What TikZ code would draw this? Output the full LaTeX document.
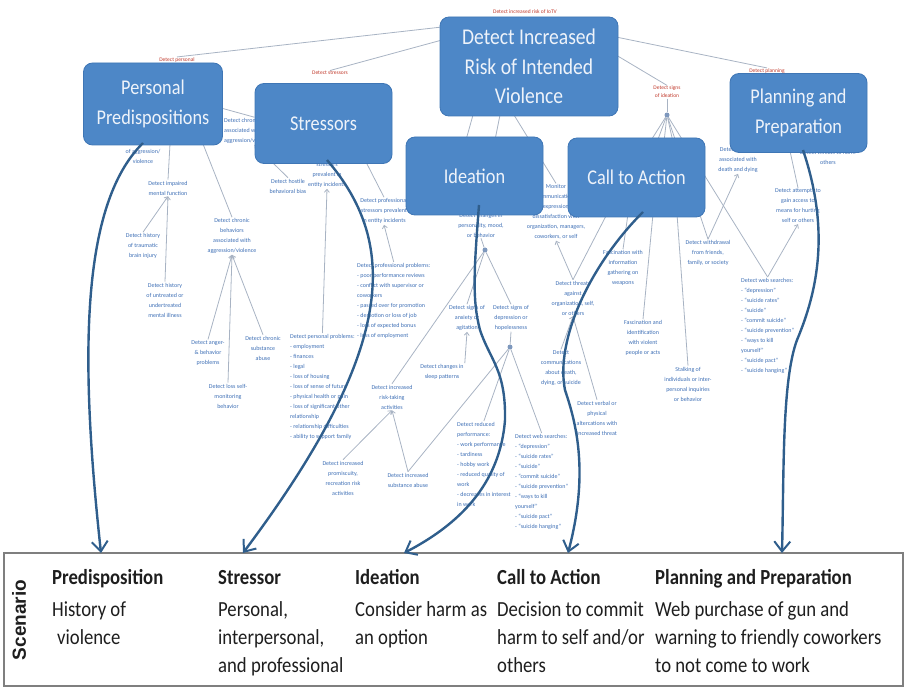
\documentclass[tikz,border=0pt]{standalone}
\usepackage{fontspec}
\setmainfont{Carlito}
\newfontfamily\arialb{Liberation Sans}
\newfontfamily\narrowfont[FakeStretch=0.87]{Carlito}
\usetikzlibrary{arrows.meta}
\definecolor{boxblue}{HTML}{4D87C7}
\definecolor{boxedge}{HTML}{3F76B5}
\definecolor{boxtext}{HTML}{EEF3FA}
\definecolor{smblue}{HTML}{3E6FB5}
\definecolor{smline}{HTML}{A8B3C3}
\definecolor{arrowblue}{HTML}{2F5E8C}
\definecolor{redtxt}{HTML}{C0392B}
\definecolor{panelline}{HTML}{7F7F7F}
\definecolor{darktxt}{HTML}{1E1E1E}
\pgfdeclarelayer{bglines}
\pgfdeclarelayer{smtext}
\pgfsetlayers{bglines,smtext,main}
\begin{document}
\begin{tikzpicture}[x=1pt,y=-1pt,
  bigbox/.style={draw=boxedge, line width=0.8pt, fill=boxblue, rounded corners=9pt, text=boxtext, align=center, font=\narrowfont\fontsize{21}{30}\selectfont, inner sep=0pt},
  sm/.style={text=smblue, font=\fontsize{6}{10}\selectfont, align=center, inner sep=1pt},
  smlist/.style={text=smblue, font=\fontsize{6}{10}\selectfont, align=left, inner sep=1pt, anchor=north west},
  redlbl/.style={text=redtxt, font=\fontsize{5.5}{8}\selectfont, align=center, inner sep=0.5pt},
  link/.style={draw=smline, line width=0.8pt},
  tiplink/.style={link, -{Straight Barb[length=3pt,width=5pt]}},
  hubdot/.style={circle, fill=smline!60!smblue, inner sep=0pt, minimum size=5pt},
  bigarrow/.style={draw=arrowblue, line width=2.4pt, -{Straight Barb[length=10pt,width=16pt,line width=2pt]}},
  scenhead/.style={text=darktxt, font=\narrowfont\fontsize{21.5}{24}\bfseries\selectfont, anchor=base west, inner sep=0pt},
  scenbody/.style={text=darktxt, font=\narrowfont\fontsize{21.5}{24}\selectfont, anchor=base west, inner sep=0pt},
]
\useasboundingbox (0,0) rectangle (906,690);

% ---------------- main boxes ----------------
\node[bigbox, font=\narrowfont\fontsize{22.5}{29.5}\selectfont, minimum width=178pt, minimum height=99pt] (dt) at (529,66.5) {Detect Increased\\Risk of Intended\\Violence};
\node[bigbox, minimum width=139pt, minimum height=82pt] (pp) at (153,104) {Personal\\Predispositions};
\node[bigbox, minimum width=137pt, minimum height=80pt] (st) at (323.5,123.5) {Stressors};
\node[bigbox, minimum width=137pt, minimum height=78pt] (id) at (474.5,176) {Ideation};
\node[bigbox, minimum width=137pt, minimum height=79pt] (ca) at (636.5,177.5) {Call to Action};
\node[bigbox, minimum width=137pt, minimum height=79pt] (pl) at (798.5,113) {Planning and\\Preparation};

% ---------------- small texts ----------------
\begin{pgfonlayer}{smtext}
\node[redlbl] (rtop) at (525,12) {Detect increased risk of IoTV};
\node[redlbl] (rpers) at (177,60) {Detect personal};
\node[redlbl] (rstr) at (330,73) {Detect stressors};
\node[redlbl] (rideat) at (667,92) {Detect signs\\of ideation};
\node[redlbl] (rplan) at (767,71) {Detect planning};

\node[sm] (a1) at (143,151) {Detect history\\of aggression/\\violence};
\node[sm, anchor=west, align=left] (a2) at (223,131) {Detect chronic behaviors\\associated with\\aggression/violence};
\node[sm] (a3) at (168,188) {Detect impaired\\mental function};
\node[sm] (a4) at (143,246) {Detect history\\of traumatic\\brain injury};
\node[sm] (a5) at (165,300) {Detect history\\of untreated or\\undertreated\\mental illness};
\node[sm] (a6) at (232,236) {Detect chronic\\behaviors\\associated with\\aggression/violence};
\node[sm] (a7) at (208,353) {Detect anger-\\\& behavior\\problems};
\node[sm] (a8) at (263,348) {Detect chronic\\substance\\abuse};
\node[sm] (a9) at (228,396) {Detect loss self-\\monitoring\\behavior};

\node[sm] (b1) at (288,186) {Detect hostile\\behavioral bias};
\node[sm] (b2) at (327,170) {Detect personal\\stressors\\prevalent in\\entity incidents};
\node[sm] (b3) at (384,211) {Detect professional\\stressors prevalent\\in entity incidents};
\node[smlist] (b4) at (356,262) {Detect professional problems:\\- poor performance reviews\\- conflict with supervisor or\\coworkers\\- passed over for promotion\\- demotion or loss of job\\- loss of expected bonus\\- loss of employment};
\node[smlist] (b5) at (289,333) {Detect personal problems:\\- employment\\- finances\\- legal\\- loss of housing\\- loss of sense of future\\- physical health or pain\\- loss of significant other\\relationship\\- relationship difficulties\\- ability to support family};
\node[sm] (b6) at (392,397) {Detect increased\\risk-taking\\activities};
\node[sm] (b7) at (343,478) {Detect increased\\promiscuity,\\recreation risk\\activities};
\node[sm] (b8) at (408,480) {Detect increased\\substance abuse};
\node[sm] (b9) at (442,372) {Detect changes in\\sleep patterns};

\node[sm] (c1) at (481,225) {Detect changes in\\personality, mood,\\or behavior};
\node[hubdot] (hub2) at (485,250) {};
\node[sm] (c2) at (467,318) {Detect signs of\\anxiety or\\agitation};
\node[sm] (c3) at (511,318) {Detect signs of\\depression or\\hopelessness};
\node[hubdot] (hub3) at (510,347) {};
\node[smlist] (c4) at (456,421) {Detect reduced\\performance:\\- work performance\\- tardiness\\- hobby work\\- reduced quality of\\work\\- decreases in interest\\in work};
\node[smlist] (c5) at (514,433) {Detect web searches:\\- ``depression''\\- ``suicide rates''\\- ``suicide''\\- ``commit suicide''\\- ``suicide prevention''\\- ``ways to kill\\yourself''\\- ``suicide pact''\\- ``suicide hanging''};

\node[sm] (m1) at (556,212) {Monitor\\communications\\for expressions of\\dissatisfaction with\\organization, managers,\\coworkers, or self};

\node[hubdot] (hub1) at (667,115) {};
\node[sm] (d1) at (738,160) {Detect interest\\associated with\\death and dying};
\node[sm] (d2) at (708,253) {Detect withdrawal\\from friends,\\family, or society};
\node[sm] (d3) at (798,206) {Detect attempts to\\gain access to\\means for hurting\\self or others};
\node[sm] (d4) at (828,157) {Detect threats to harm\\others};
\node[smlist] (d5) at (740,277) {Detect web searches:\\- ``depression''\\- ``suicide rates''\\- ``suicide''\\- ``commit suicide''\\- ``suicide prevention''\\- ``ways to kill\\yourself''\\- ``suicide pact''\\- ``suicide hanging''};
\node[sm] (d6) at (573,298) {Detect threats\\against\\organization, self,\\or others};
\node[sm] (d7) at (623,268) {Fascination with\\information\\gathering on\\weapons};
\node[sm] (d8) at (643,338) {Fascination and\\identification\\with violent\\people or acts};
\node[sm] (d9) at (688,384) {Stalking of\\individuals or inter-\\personal inquiries\\or behavior};
\node[sm] (d10) at (561,368) {Detect\\communications\\about death,\\dying, or suicide};
\node[sm] (d11) at (597,418) {Detect verbal or\\physical\\altercations with\\increased threat};
\end{pgfonlayer}

% ---------------- thin connectors ----------------
\coordinate (dtA) at (442,27);
\coordinate (dtB) at (442,40);
\coordinate (dtC) at (616,37);
\coordinate (dtD) at (616,55);
\coordinate (dtE) at (473,115);
\coordinate (dtF) at (500,115);
\coordinate (dtG) at (514,115);
\coordinate (idE) at (466,140);
\coordinate (idF) at (495,140);
\coordinate (ppR) at (221,108);
\coordinate (ppB1) at (170,144);
\coordinate (ppB2) at (203,144);
\coordinate (stB) at (366,162);
\coordinate (caT1) at (650,142);
\coordinate (caT2) at (657,142);
\coordinate (caT3) at (664,142);
\coordinate (caT4) at (673,142);
\coordinate (caB1) at (607,214);
\coordinate (caB2) at (628,214);
\coordinate (caB3) at (653,214);
\coordinate (caB4) at (677,214);
\coordinate (plB) at (790,151);
\begin{pgfonlayer}{bglines}
\draw[link] (dtA) -- (rpers.north);
\draw[link] (dtB) -- (rstr.north);
\draw[link] (dtC) -- (rplan.north);
\draw[link] (dtD) -- (rideat.north);
\draw[link] (rideat.south) -- (hub1);
\draw[link] (dtE) -- (idE);
\draw[link] (dtF) -- (idF);
\draw[link] (dtG) -- (m1.north);
\draw[link] (ppR) -- (a2.north);
\draw[link] (ppB1) -- (a3.north);
\draw[link] (ppB2) -- (a6.north);
\draw[tiplink] (a4.north) -- (a3.south);
\draw[tiplink] (a5.north) -- (a3.south);
\draw[tiplink] (a7.north) -- (a6.south);
\draw[tiplink] (a9.north) -- (a6.south);
\draw[tiplink] (a8.north) -- (a6.south);
\draw[tiplink] (b1.north) -- (a2.south);
\draw[link] (stB) -- (b3.north);
\draw[tiplink] (b5.north) -- (b2.south);
\draw[tiplink] (b4.north) -- (b3.south);
\draw[link] (hub2) -- (b6.north);
\draw[tiplink] (b7.north) -- (b6.south);
\draw[tiplink] (b8.north) -- (b6.south);
\draw[link] (hub3) -- (b8.north);
\draw[tiplink] (b9.north east) -- (c2.south);
\draw[link] (c1.south) -- (hub2);
\draw[link] (hub2) -- (c2.north);
\draw[link] (hub2) -- (c3.north);
\draw[link] (c3.south) -- (hub3);
\draw[link] (hub3) -- (c4.north);
\draw[link] (hub3) -- (c5.north);
\draw[tiplink] (d6.north) -- (m1.south);
\draw[link] (caB1) -- (d6.north);
\draw[link] (caB2) -- (d7.north);
\draw[link] (caB3) -- (d8.north);
\draw[link] (caB4) -- (d9.north);
\draw[tiplink] (d10.north) -- (d6.south);
\draw[link] (d6.south) -- (d11.north);
\draw[link] (hub1) -- (caT1);
\draw[link] (hub1) -- (caT2);
\draw[link] (hub1) -- (caT3);
\draw[link] (hub1) -- (caT4);
\draw[link] (hub1) -- (d2.north);
\draw[tiplink] (d2.north) -- (d1.south);
\draw[link] (hub1) -- (d5.north);
\draw[tiplink] (d5.north) -- (d3.south);
\draw[link] (plB) -- (d3.north);
\end{pgfonlayer}

% ---------------- scenario panel ----------------
\coordinate (pnlTL) at (4,553);
\coordinate (pnlBR) at (903,686);
\draw[panelline, line width=1.6pt] (pnlTL) rectangle (pnlBR);
\node[rotate=90, text=darktxt, font=\arialb\bfseries\fontsize{19}{22}\selectfont, inner sep=0pt] (scen) at (19,620) {Scenario};

\node[scenhead] (h1) at (52,584) {Predisposition};
\node[scenbody] (h1a) at (52,616) {History of};
\node[scenbody] (h1b) at (57,644) {violence};

\node[scenhead] (h2) at (218,584) {Stressor};
\node[scenbody] (h2a) at (218,616) {Personal,};
\node[scenbody] (h2b) at (218,644) {interpersonal,};
\node[scenbody] (h2c) at (218,672) {and professional};

\node[scenhead] (h3) at (355,584) {Ideation};
\node[scenbody] (h3a) at (355,616) {Consider harm as};
\node[scenbody] (h3b) at (355,644) {an option};

\node[scenhead] (h4) at (497,584) {Call to Action};
\node[scenbody] (h4a) at (497,616) {Decision to commit};
\node[scenbody] (h4b) at (497,644) {harm to self and/or};
\node[scenbody] (h4c) at (497,672) {others};

\node[scenhead] (h5) at (655,584) {Planning and Preparation};
\node[scenbody] (h5a) at (655,616) {Web purchase of gun and};
\node[scenbody] (h5b) at (655,644) {warning to friendly coworkers};
\node[scenbody] (h5c) at (655,672) {to not come to work};

% ---------------- big arrows ----------------
\coordinate (ppS) at (143,143);
\coordinate (stS) at (327,160);
\coordinate (idS) at (479,205);
\coordinate (caS) at (643,212);
\coordinate (plS) at (803,150);
\coordinate (ppEnd) at (101,553);
\coordinate (stEnd) at (243,553);
\coordinate (idEnd) at (404,553);
\coordinate (caEnd) at (568,553);
\coordinate (plEnd) at (782,553);
\draw[bigarrow] (ppS) .. controls (80,205) and (80,360) .. (ppEnd);
\draw[bigarrow] (stS) .. controls (400,245) and (395,350) .. (stEnd);
\draw[bigarrow] (idS) .. controls (474,270) and (472,300) .. (480,330) .. controls (490,360) and (506,370) .. (505,420) .. controls (500,485) and (458,525) .. (idEnd);
\draw[bigarrow] (caS) .. controls (590,265) and (555,340) .. (565,390) .. controls (575,420) and (590,470) .. (caEnd);
\draw[bigarrow] (plS) .. controls (830,230) and (818,290) .. (797,340) .. controls (782,380) and (784,470) .. (plEnd);
\end{tikzpicture}
\end{document}
